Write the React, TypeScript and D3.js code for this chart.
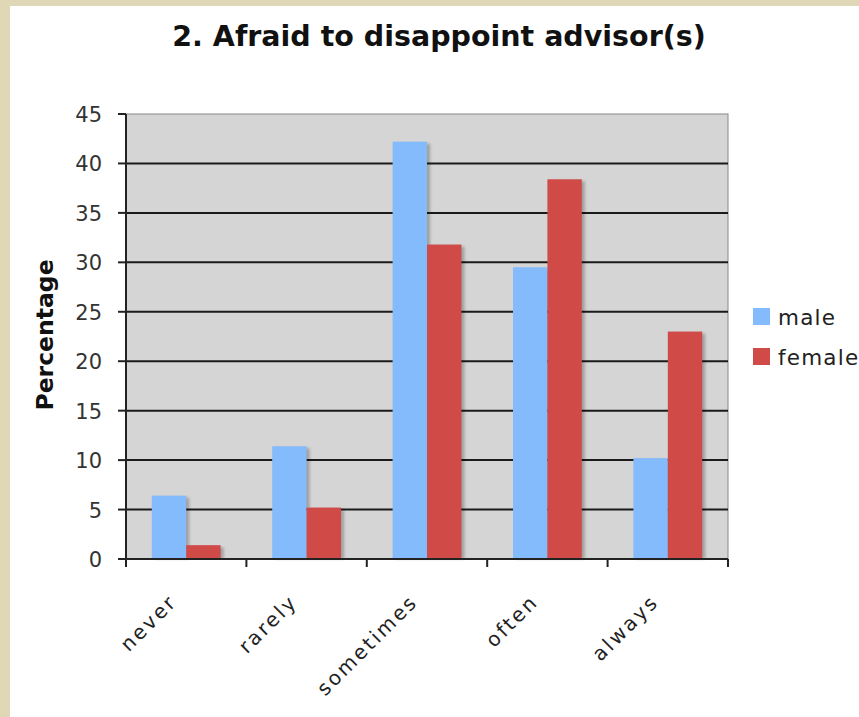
import React from "react";
import * as d3 from "d3";

const categories = ["never", "rarely", "sometimes", "often", "always"];
const series = ["male", "female"];
const maleValues = [6.4, 11.4, 42.2, 29.5, 10.2];
const femaleValues = [1.4, 5.2, 31.8, 38.4, 23.0];
const yTicks = [0, 5, 10, 15, 20, 25, 30, 35, 40, 45];
const colors = ["#84BBFD", "#D04B48"];
const title = "2. Afraid to disappoint advisor(s)";
const yTitle = "Percentage";

export default function App() {
  const W = 859, H = 717;
  const plot = { left: 126, right: 728, top: 114, bottom: 559 };
  const x = d3.scaleBand().domain(categories).range([plot.left, plot.right]).paddingInner(0).paddingOuter(0);
  const y = d3.scaleLinear().domain([0, 45]).range([plot.bottom, plot.top]);
  const bw = x.bandwidth() / 3.5;
  const data = [maleValues, femaleValues];
  const font = "Verdana, 'DejaVu Sans', sans-serif";
  return (
    <div style={{ position: "absolute", left: 0, top: 0 }}>
      <svg width={W} height={H} style={{ display: "block" }}>
        <defs>
          <filter id="sh" x="-20%" y="-5%" width="150%" height="110%">
            <feGaussianBlur stdDeviation="1.5" />
          </filter>
        </defs>
        <rect x={0} y={0} width={W} height={H} fill="#E0D7B6" />
        <rect x={10} y={6} width={W - 10} height={H - 6} fill="#FFFFFF" />
        <text x={439} y={46} textAnchor="middle" fontFamily={font} fontWeight="bold" fontSize={28.5} fill="#111">{title}</text>
        <rect x={plot.left} y={plot.top} width={plot.right - plot.left} height={plot.bottom - plot.top} fill="#D5D5D5" stroke="#888" strokeWidth={1} />
        {yTicks.filter(t => t > 0 && t < 45).map(t => (
          <line key={t} x1={plot.left} x2={plot.right} y1={y(t)} y2={y(t)} stroke="#1a1a1a" strokeWidth={2} />
        ))}
        {categories.map((c, i) => (
          <g key={c}>
            {data.map((vals, s) => {
              const bx = (x(c) as number) + bw * 0.75 + s * bw;
              return (
                <rect key={s} x={bx + 3} y={y(vals[i]) + 2} width={bw} height={plot.bottom - y(vals[i]) - 2} fill="#000" opacity={0.25} filter="url(#sh)" />
              );
            })}
            {data.map((vals, s) => {
              const bx = (x(c) as number) + bw * 0.75 + s * bw;
              return <rect key={s} x={bx} y={y(vals[i])} width={bw} height={plot.bottom - y(vals[i])} fill={colors[s]} />;
            })}
          </g>
        ))}
        <line x1={plot.left} x2={plot.left} y1={plot.top} y2={plot.bottom + 8} stroke="#222" strokeWidth={2} />
        <line x1={plot.left - 8} x2={plot.right} y1={plot.bottom} y2={plot.bottom} stroke="#222" strokeWidth={2} />
        {yTicks.map(t => (
          <g key={t}>
            <line x1={plot.left - 8} x2={plot.left} y1={y(t)} y2={y(t)} stroke="#222" strokeWidth={2} />
            <text x={102} y={y(t) + 8} textAnchor="end" fontFamily={font} fontSize={21} fill="#333">{t}</text>
          </g>
        ))}
        {categories.map(c => (
          <line key={c} x1={(x(c) as number) + x.bandwidth()} x2={(x(c) as number) + x.bandwidth()} y1={plot.bottom} y2={plot.bottom + 8} stroke="#222" strokeWidth={2} />
        ))}
        {categories.map(c => {
          const cx = (x(c) as number) + x.bandwidth() / 2 - 8;
          const cy = plot.bottom + 44;
          return (
            <text key={c} transform={`translate(${cx},${cy}) rotate(-45)`} textAnchor="end" fontFamily={font} fontSize={20} letterSpacing={2.5} fill="#222">{c}</text>
          );
        })}
        <text transform={`translate(53,335) rotate(-90)`} textAnchor="middle" fontFamily={font} fontWeight="bold" fontSize={23.5} fill="#111">{yTitle}</text>
        {series.map((s, i) => (
          <g key={s}>
            <rect x={753} y={308 + i * 40} width={17} height={17} fill={colors[i]} />
            <text x={778} y={325 + i * 40} fontFamily={font} fontSize={21.5} letterSpacing={1.2} fill="#222">{s}</text>
          </g>
        ))}
      </svg>
    </div>
  );
}
